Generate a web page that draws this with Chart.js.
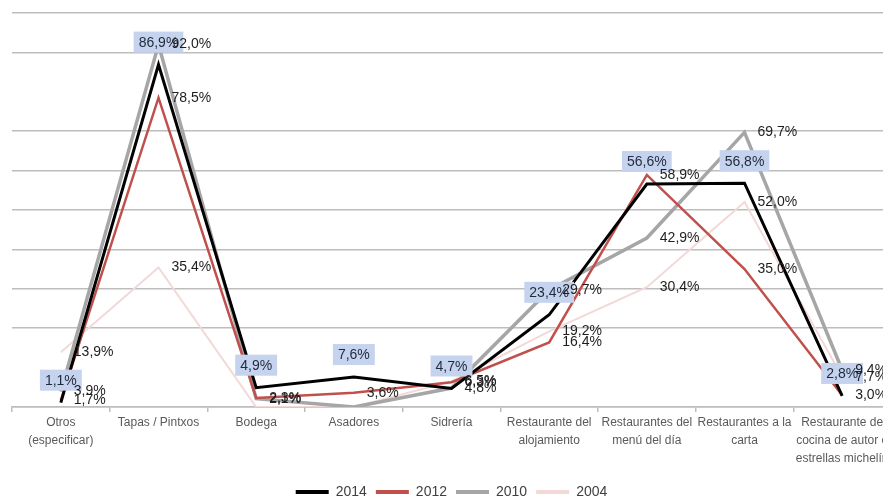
<!DOCTYPE html>
<html lang="es">
<head>
<meta charset="utf-8">
<script src="https://cdn.jsdelivr.net/npm/chart.js@4.4.1/dist/chart.umd.min.js"></script>
<style>
  html, body { margin: 0; padding: 0; background: #ffffff; overflow: hidden; }
  #wrap { width: 895px; height: 509px; }
</style>
</head>
<body>
<div id="wrap"><canvas id="c" width="895" height="509"></canvas></div>
<script>
// Tipos de establecimiento (eje X)
const categories = [
  ['Otros', '(especificar)'],
  'Tapas / Pintxos',
  'Bodega',
  'Asadores',
  'Sidrería',
  ['Restaurante del', 'alojamiento'],
  ['Restaurantes del', 'menú del día'],
  ['Restaurantes a la', 'carta'],
  ['Restaurante de', 'cocina de autor o', 'estrellas michelín']
];

// Porcentaje por año
const v2014 = [1.1, 86.9, 4.9, 7.6, 4.7, 23.4, 56.6, 56.8, 2.8];
const v2012 = [1.7, 78.5, 2.3, 3.6, 6.3, 16.4, 58.9, 35.0, 3.0];
const v2010 = [3.9, 92.0, 2.1, 0.0, 4.8, 29.7, 42.9, 69.7, 9.4];
const v2004 = [13.9, 35.4, 0.0, 0.0, 6.5, 19.2, 30.4, 52.0, 7.7];

const yearLabels = ['2014', '2012', '2010', '2004'];

const FONT = '"Liberation Sans", Arial, sans-serif';
const GRID = '#bdbdbd';

const fmt = v => v.toFixed(1).replace('.', ',') + '%';

// Etiquetas de valor: 2014 en recuadro azul encima del punto, el resto a la derecha
const valueLabels = {
  id: 'valueLabels',
  afterDatasetsDraw(chart) {
    const ctx = chart.ctx;
    ctx.save();
    ctx.font = '14px ' + FONT;
    ctx.textBaseline = 'middle';
    const order = [0, 1, 2, 3];
    order.forEach(di => {
      const ds = chart.data.datasets[di];
      const meta = chart.getDatasetMeta(di);
      meta.data.forEach((pt, j) => {
        const v = ds.data[j];
        if (!v) return;
        const txt = fmt(v);
        if (di === 0) {
          const w = ctx.measureText(txt).width + 10;
          const h = 21;
          const bx = pt.x - w / 2;
          const by = pt.y - 12 - h;
          ctx.fillStyle = '#c5d3ee';
          ctx.fillRect(bx, by, w, h);
          ctx.fillStyle = '#1f2a3a';
          ctx.textAlign = 'center';
          ctx.fillText(txt, pt.x, by + h / 2 + 1);
        } else {
          ctx.fillStyle = '#1e1e1e';
          ctx.textAlign = 'left';
          ctx.fillText(txt, pt.x + 13, pt.y);
        }
      });
    });
    ctx.restore();
  }
};

const mk = (label, data, color, width) => ({
  label, data,
  borderColor: color,
  backgroundColor: color,
  borderWidth: width,
  pointRadius: 0,
  pointHoverRadius: 0,
  tension: 0,
  fill: false
});

new Chart(document.getElementById('c'), {
  type: 'line',
  data: {
    labels: categories,
    datasets: [
      mk(yearLabels[0], v2014, '#000000', 3),
      mk(yearLabels[1], v2012, '#c0504d', 2.5),
      mk(yearLabels[2], v2010, '#a6a6a6', 3.5),
      mk(yearLabels[3], v2004, '#f2d9d8', 2)
    ]
  },
  options: {
    responsive: false,
    animation: false,
    devicePixelRatio: 1,
    layout: { padding: { top: 13, left: 12, right: 4, bottom: 0 } },
    plugins: {
      tooltip: { enabled: false },
      legend: {
        position: 'bottom',
        labels: {
          font: { family: FONT, size: 14 },
          color: '#404040',
          boxWidth: 33,
          boxHeight: 4,
          padding: 9,
          generateLabels(chart) {
            return chart.data.datasets.map((ds, i) => ({
              text: ds.label,
              fillStyle: ds.borderColor,
              strokeStyle: ds.borderColor,
              lineWidth: 0,
              hidden: false,
              datasetIndex: i,
              fontColor: '#404040'
            }));
          }
        }
      }
    },
    scales: {
      x: {
        offset: true,
        grid: {
          offset: true,
          drawOnChartArea: false,
          drawTicks: true,
          tickLength: 5,
          color: GRID,
          lineWidth: 1.5
        },
        border: { display: true, color: GRID, width: 1.5 },
        ticks: {
          autoSkip: false,
          maxRotation: 0,
          padding: 2,
          color: '#5a5a5a',
          font: { family: FONT, size: 12, lineHeight: 1.5 }
        },
        afterFit(scale) { scale.height += 6; }
      },
      y: {
        min: 0,
        max: 100,
        border: { display: false },
        ticks: { display: false, stepSize: 10 },
        grid: {
          drawTicks: false,
          lineWidth: 1.5,
          color: c => (c.tick.value === 80 || c.tick.value === 10) ? 'rgba(0,0,0,0)' : GRID
        }
      }
    }
  },
  plugins: [valueLabels]
});
</script>
</body>
</html>
